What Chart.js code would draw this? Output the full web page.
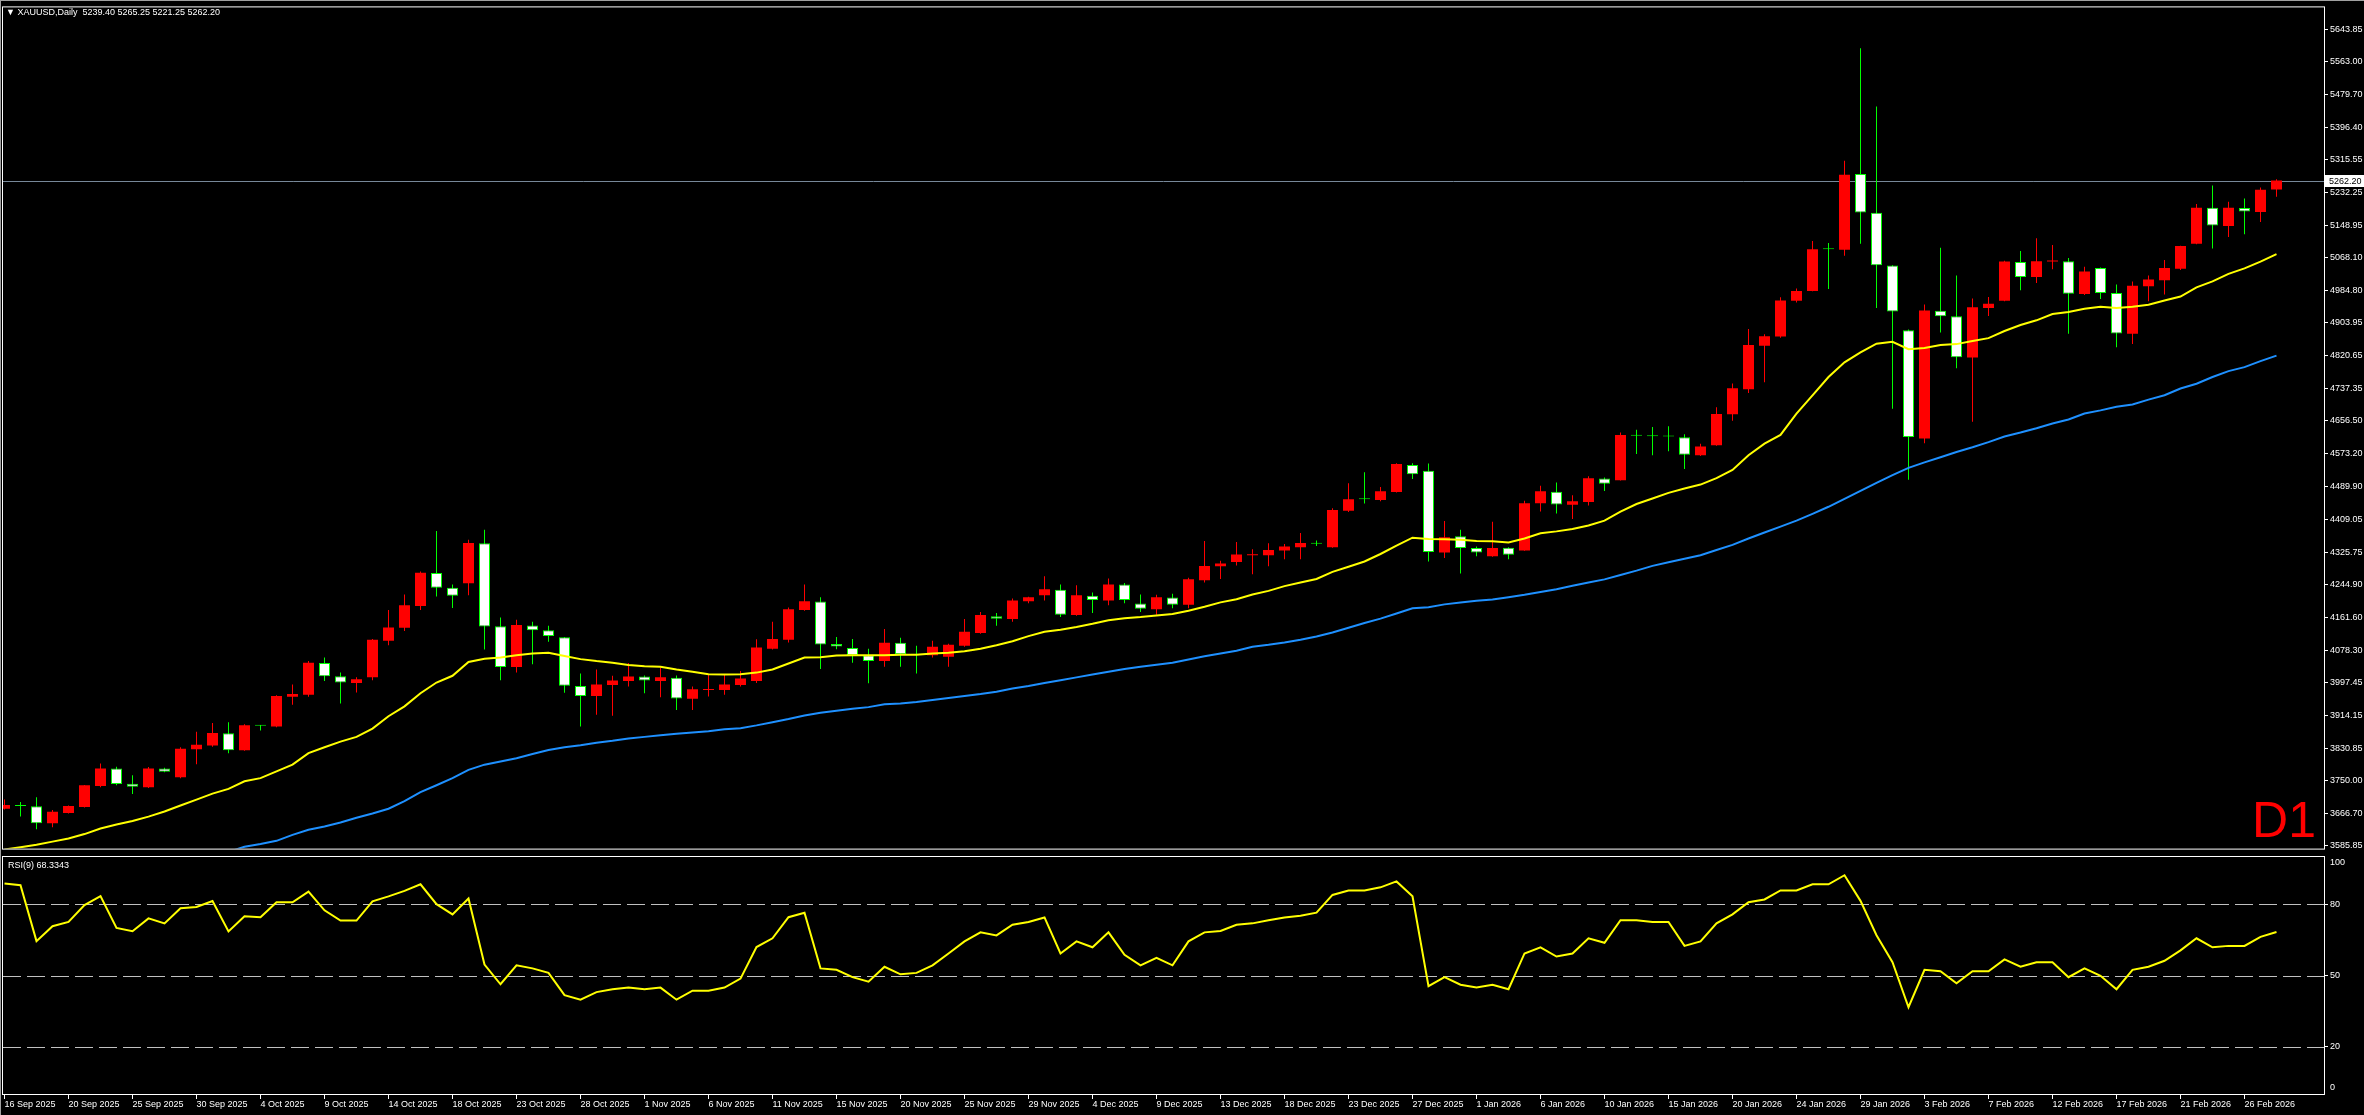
<!DOCTYPE html>
<html>
<head>
<meta charset="utf-8">
<title>XAUUSD Daily</title>
<script src="https://cdn.jsdelivr.net/npm/chart.js@4.4.1/dist/chart.umd.min.js"></script>
<style>
  html, body { margin: 0; padding: 0; background: #000; }
  #wrap { position: relative; width: 2364px; height: 1115px; overflow: hidden; background: #000; }
  canvas { position: absolute; left: 0; }
  .txt { position: absolute; font-family: 'Liberation Sans', Arial, sans-serif; white-space: pre; }
</style>
</head>
<body>
<div id="wrap">
  <canvas id="priceChart" width="2364" height="856" style="top:0;width:2364px;height:856px"></canvas>
  <canvas id="rsiChart" width="2364" height="259" style="top:856px;width:2364px;height:259px"></canvas>
  <div style="position:absolute;left:0;top:0;width:2364px;height:1px;background:#a0a0a0"></div>
  <div style="position:absolute;left:0;top:0;width:1px;height:1115px;background:#a0a0a0"></div>
  <div class="txt" style="left:6px;top:6px;font-size:9px;line-height:12px;color:#fff">▼ XAUUSD,Daily  5239.40 5265.25 5221.25 5262.20</div>
  <div class="txt" style="left:8px;top:859px;font-size:9px;line-height:12px;color:#fff">RSI(9) 68.3343</div>
  <div class="txt" style="right:48px;top:795px;font-size:50px;line-height:50px;color:#ff0000">D1</div>
</div>
<script>
const FONT = "'Liberation Sans', Arial, sans-serif";

// daily bars, 16 Sep 2025 .. end of Feb 2026
const open = [
  3679,3687,3685,3642,3668,3683,3736,3780,3742,3733,
  3780,3758,3829,3838,3869,3826,3888,3886,3961,3966,
  4046,4013,3996,4010,4102,4135,4190,4273,4236,4247,
  4348,4139,4036,4141,4129,4111,3988,3963,3991,4001,
  4012,4001,4009,3956,3978,3978,3991,4001,4082,4105,
  4180,4201,4094,4084,4066,4051,4097,4067,4066,4062,
  4090,4122,4164,4157,4202,4217,4231,4167,4216,4204,
  4244,4196,4182,4211,4193,4255,4290,4301,4318,4318,
  4330,4338,4347,4338,4430,4459,4457,4477,4545,4531,
  4325,4366,4336,4315,4337,4330,4449,4478,4445,4452,
  4511,4507,4619,4618,4617,4615,4570,4595,4673,4736,
  4846,4869,4959,4984,5089,5088,5279,5181,5048,4885,
  4612,4934,4920,4816,4941,4959,5057,5019,5058,5059,
  4976,5042,4979,4876,4996,5011,5040,5103,5194,5148,
  5193,5183,5239.40
];
const high = [
  3702,3696,3708,3676,3687,3739,3793,3785,3763,3784,
  3782,3834,3873,3895,3897,3892,3890,3965,3992,4051,
  4060,4022,4010,4107,4180,4219,4277,4379,4244,4357,
  4382,4161,4155,4150,4140,4112,4020,4030,4014,4046,
  4015,4035,4015,3987,4018,4017,4026,4106,4150,4186,
  4244,4212,4112,4107,4082,4132,4110,4090,4102,4095,
  4157,4175,4172,4209,4213,4265,4244,4242,4224,4259,
  4248,4219,4218,4221,4261,4354,4304,4351,4333,4348,
  4346,4374,4355,4436,4499,4527,4490,4550,4550,4549,
  4404,4382,4340,4402,4338,4455,4493,4501,4469,4517,
  4514,4627,4634,4641,4643,4623,4599,4691,4751,4888,
  4875,4968,4990,5110,5105,5312,5596,5449,5049,4887,
  4950,5093,5023,4965,4969,5060,5085,5117,5100,5067,
  5045,5043,5000,5008,5023,5062,5098,5203,5250,5209,
  5217,5245,5265.25
];
const low = [
  3677,3659,3627,3632,3667,3682,3733,3738,3716,3731,
  3771,3756,3791,3835,3819,3825,3876,3884,3941,3961,
  4001,3944,3972,4003,4091,4127,4180,4214,4185,4217,
  4080,4003,4022,4043,4100,3971,3886,3916,3913,3987,
  3970,3960,3928,3928,3962,3966,3987,3996,4080,4098,
  4178,4031,4081,4047,3995,4037,4037,4020,4060,4037,
  4087,4120,4140,4150,4197,4204,4162,4165,4172,4192,
  4197,4175,4168,4184,4184,4249,4258,4292,4270,4290,
  4308,4308,4341,4337,4427,4448,4454,4476,4510,4302,
  4311,4272,4315,4314,4308,4329,4428,4423,4409,4443,
  4480,4506,4573,4570,4580,4535,4568,4594,4657,4727,
  4754,4866,4955,4983,4989,5073,5103,4941,4687,4508,
  4600,4879,4789,4654,4921,4958,4986,5004,5039,4876,
  4974,4964,4842,4850,4958,4975,5037,5102,5091,5120,
  5127,5158,5221.25
];
const close = [
  3688,3686,3642,3671,3686,3738,3780,3741,3734,3780,
  3772,3830,3840,3870,3826,3889,3888,3963,3968,4047,
  4013,3997,4005,4105,4136,4192,4274,4236,4216,4349,
  4138,4036,4142,4129,4114,3989,3963,3992,4002,4012,
  4002,4010,3957,3980,3980,3992,4007,4085,4107,4182,
  4202,4093,4088,4066,4051,4097,4068,4067,4087,4092,
  4125,4167,4158,4204,4212,4232,4168,4217,4205,4244,
  4205,4183,4212,4193,4257,4291,4297,4320,4320,4331,
  4340,4349,4347,4432,4459,4459,4479,4548,4522,4326,
  4363,4336,4325,4336,4319,4449,4479,4446,4454,4512,
  4498,4621,4619,4618,4617,4571,4592,4674,4739,4848,
  4870,4960,4984,5089,5089,5277,5182,5049,4932,4616,
  4935,4920,4817,4943,4952,5058,5019,5059,5060,4977,
  5033,4979,4877,4997,5013,5042,5097,5194,5149,5194,
  5184,5239,5262.20
];

// yellow and blue moving averages, as drawn
const maFast = [
  3576,3582,3588,3596,3604,3615,3629,3639,3648,3659,
  3672,3687,3702,3717,3729,3748,3756,3773,3790,3819,
  3834,3848,3860,3881,3912,3937,3970,3997,4014,4049,
  4057,4060,4066,4070,4072,4064,4056,4051,4047,4041,
  4038,4037,4030,4024,4018,4017,4018,4022,4030,4045,
  4060,4061,4065,4066,4066,4066,4067,4067,4070,4072,
  4076,4082,4091,4101,4114,4125,4130,4137,4145,4154,
  4159,4162,4166,4170,4178,4188,4199,4207,4219,4228,
  4240,4249,4258,4276,4289,4302,4321,4342,4362,4359,
  4358,4357,4354,4353,4350,4360,4373,4378,4384,4393,
  4405,4428,4447,4461,4475,4486,4496,4512,4533,4570,
  4599,4621,4675,4721,4767,4804,4829,4851,4856,4837,
  4840,4848,4850,4858,4865,4883,4898,4910,4926,4931,
  4939,4944,4941,4944,4949,4960,4970,4993,5008,5027,
  5041,5058,5077
];
const maSlow = [
  null,null,null,null,null,null,null,null,null,null,
  null,null,null,3560,3570,3583,3590,3598,3613,3626,
  3634,3644,3656,3667,3679,3698,3721,3738,3756,3777,
  3790,3798,3806,3817,3827,3834,3839,3845,3850,3856,
  3860,3864,3868,3871,3874,3879,3882,3889,3897,3905,
  3914,3921,3926,3931,3935,3942,3944,3948,3953,3958,
  3963,3968,3974,3982,3988,3996,4003,4010,4017,4024,
  4031,4037,4042,4047,4055,4063,4070,4077,4087,4092,
  4098,4105,4113,4123,4135,4147,4158,4171,4184,4187,
  4194,4199,4203,4206,4212,4218,4225,4232,4241,4249,
  4257,4268,4279,4291,4300,4309,4318,4331,4344,4360,
  4375,4390,4405,4422,4440,4460,4480,4500,4520,4538,
  4552,4565,4578,4590,4603,4617,4627,4638,4650,4660,
  4675,4683,4692,4698,4710,4721,4738,4750,4767,4782,
  4792,4807,4821
];

// RSI(9)
const rsi = [
  88.8,88.1,64.5,70.8,72.6,79.7,83.5,70.1,68.7,74.1,
  72.0,78.4,78.9,81.4,68.6,75.0,74.6,80.9,80.9,85.4,
  77.5,73.2,73.2,81.3,83.4,85.7,88.5,80.1,75.8,82.5,
  54.6,46.3,54.3,53.0,51.1,41.7,39.8,43.0,44.2,44.9,
  44.2,44.9,39.8,43.6,43.6,44.9,48.7,62.0,65.7,74.6,
  76.5,53.0,52.4,49.3,47.4,53.7,50.5,51.1,54.3,59.3,
  64.4,68.2,66.9,71.4,72.6,74.5,59.3,64.4,61.9,68.2,
  58.7,54.3,57.4,54.3,64.4,68.2,68.8,71.4,72.0,73.3,
  74.5,75.2,76.5,84.0,85.9,85.9,87.2,89.7,83.4,45.5,
  49.3,46.1,44.9,46.1,44.2,59.3,61.9,58.0,59.3,65.7,
  63.8,73.3,73.3,72.6,72.6,62.5,64.4,72.0,75.8,80.9,
  82.1,85.9,85.9,88.5,88.5,92.3,81.5,67.0,55.6,36.6,
  52.4,51.8,46.7,51.8,51.8,56.8,53.7,55.6,55.6,49.3,
  53.0,49.9,44.2,52.4,53.7,56.2,60.6,65.7,61.9,62.5,
  62.5,66.3,68.33
];

const priceTicks = [
  5643.85, 5563.00, 5479.70, 5396.40, 5315.55, 5232.25, 5148.95, 5068.10, 4984.80,
  4903.95, 4820.65, 4737.35, 4656.50, 4573.20, 4489.90, 4409.05, 4325.75, 4244.90,
  4161.60, 4078.30, 3997.45, 3914.15, 3830.85, 3750.00, 3666.70, 3585.85
];
const rsiLevels = [20, 50, 80];
const rsiLabels = [100, 80, 50, 20, 0];
const dateTicks = [
  '16 Sep 2025', '20 Sep 2025', '25 Sep 2025', '30 Sep 2025', '4 Oct 2025', '9 Oct 2025',
  '14 Oct 2025', '18 Oct 2025', '23 Oct 2025', '28 Oct 2025', '1 Nov 2025', '6 Nov 2025',
  '11 Nov 2025', '15 Nov 2025', '20 Nov 2025', '25 Nov 2025', '29 Nov 2025', '4 Dec 2025',
  '9 Dec 2025', '13 Dec 2025', '18 Dec 2025', '23 Dec 2025', '27 Dec 2025', '1 Jan 2026',
  '6 Jan 2026', '10 Jan 2026', '15 Jan 2026', '20 Jan 2026', '24 Jan 2026', '29 Jan 2026',
  '3 Feb 2026', '7 Feb 2026', '12 Feb 2026', '17 Feb 2026', '21 Feb 2026', '26 Feb 2026'
];
const barsPerDateTick = 4;

// visible window (bar index / price)
const X_MIN = -0.09375, X_MAX = 144.96875;
const Y_MIN = 3578.4, Y_MAX = 5698.7;

const BULL = '#ff0000', BEAR_FILL = '#ffffff', BEAR_LINE = '#00ff00';

const idx = close.map((c, i) => i);
const up = idx.map(i => close[i] > open[i]);
const pts = arr => arr.map((v, i) => ({ x: i, y: v }));

// ----- panel frame -----
const framePlugin = {
  id: 'frame',
  afterDraw(chart) {
    const { ctx, chartArea: a } = chart;
    ctx.save();
    ctx.strokeStyle = '#ffffff';
    ctx.lineWidth = 1;
    ctx.strokeRect(a.left - 0.5, a.top - 0.5, a.right - a.left + 1, a.bottom - a.top + 1);
    ctx.restore();
  }
};

// ----- bid line + price box -----
const bidPlugin = {
  id: 'bid',
  beforeDatasetsDraw(chart) {
    const { ctx, chartArea: a, scales: { y } } = chart;
    const py = Math.round(y.getPixelForValue(close[close.length - 1])) + 0.5;
    ctx.save();
    ctx.strokeStyle = '#778899';
    ctx.lineWidth = 1;
    ctx.beginPath();
    ctx.moveTo(a.left, py);
    ctx.lineTo(a.right, py);
    ctx.stroke();
    ctx.restore();
  },
  afterDraw(chart) {
    const { ctx, chartArea: a, scales: { y } } = chart;
    const last = close[close.length - 1];
    const py = Math.round(y.getPixelForValue(last));
    ctx.save();
    ctx.fillStyle = '#ffffff';
    ctx.fillRect(a.right + 1, py - 6, 39, 12);
    ctx.fillStyle = '#000000';
    ctx.font = '9px ' + FONT;
    ctx.textBaseline = 'middle';
    ctx.fillText(last.toFixed(2), a.right + 5, py + 0.5);
    ctx.restore();
  }
};

// ----- main price chart -----
new Chart(document.getElementById('priceChart'), {
  type: 'bar',
  data: {
    datasets: [
      {
        type: 'line', data: pts(maFast), borderColor: '#ffff00', borderWidth: 2,
        pointRadius: 0, tension: 0, order: 0
      },
      {
        type: 'line', data: pts(maSlow), borderColor: '#1e90ff', borderWidth: 2,
        pointRadius: 0, tension: 0, spanGaps: false, order: 1
      },
      {
        type: 'bar',
        data: idx.map(i => ({ x: i, y: [Math.min(open[i], close[i]), Math.max(open[i], close[i])] })),
        backgroundColor: up.map(u => u ? BULL : BEAR_FILL),
        borderColor: up.map(u => u ? BULL : BEAR_LINE),
        borderWidth: up.map(u => u ? 0 : 1),
        borderSkipped: false,
        barThickness: 11,
        minBarLength: 1,
        inflateAmount: 0,
        grouped: false,
        order: 2
      },
      {
        type: 'bar',
        data: idx.map(i => ({ x: i, y: [low[i], high[i]] })),
        backgroundColor: up.map(u => u ? BULL : BEAR_LINE),
        borderWidth: 0,
        barThickness: 1,
        inflateAmount: 0,
        grouped: false,
        order: 3
      }
    ]
  },
  options: {
    responsive: false,
    animation: false,
    events: [],
    layout: { padding: { left: 3, top: 3, right: 0, bottom: 3 } },
    plugins: { legend: { display: false }, tooltip: { enabled: false } },
    scales: {
      x: { type: 'linear', display: false, min: X_MIN, max: X_MAX, offset: false },
      y: {
        type: 'linear',
        position: 'right',
        min: Y_MIN,
        max: Y_MAX,
        beginAtZero: false,
        afterBuildTicks: s => { s.ticks = priceTicks.map(v => ({ value: v })); },
        afterFit: s => { s.width = 40; },
        grid: { drawOnChartArea: false, drawTicks: true, tickLength: 4, color: '#ffffff' },
        border: { display: true, color: '#ffffff', width: 1 },
        ticks: {
          color: '#ffffff', padding: 2, autoSkip: false,
          font: { family: FONT, size: 9 },
          callback: v => Number(v).toFixed(2)
        }
      }
    }
  },
  plugins: [framePlugin, bidPlugin]
});

// ----- RSI levels and labels -----
const rsiPlugin = {
  id: 'rsiLevels',
  beforeDatasetsDraw(chart) {
    const { ctx, chartArea: a, scales: { y } } = chart;
    ctx.save();
    ctx.strokeStyle = '#c0c0c0';
    ctx.lineWidth = 1;
    ctx.setLineDash([18, 6]);
    rsiLevels.forEach(v => {
      const py = Math.round(y.getPixelForValue(v)) + 0.5;
      ctx.beginPath();
      ctx.moveTo(a.left, py);
      ctx.lineTo(a.right, py);
      ctx.stroke();
    });
    ctx.restore();
  },
  afterDraw(chart) {
    const { ctx, chartArea: a, scales: { y } } = chart;
    ctx.save();
    ctx.fillStyle = '#ffffff';
    ctx.font = '9px ' + FONT;
    ctx.textBaseline = 'middle';
    rsiLabels.forEach(v => {
      const py = Math.min(Math.max(y.getPixelForValue(v), a.top + 6), a.bottom - 6);
      ctx.fillText(String(v), a.right + 6, py);
    });
    ctx.restore();
  }
};

new Chart(document.getElementById('rsiChart'), {
  type: 'line',
  data: {
    datasets: [{
      data: pts(rsi), borderColor: '#ffff00', borderWidth: 2, pointRadius: 0, tension: 0
    }]
  },
  options: {
    responsive: false,
    animation: false,
    events: [],
    layout: { padding: { left: 3, top: 1, right: 0, bottom: 0 } },
    plugins: { legend: { display: false }, tooltip: { enabled: false } },
    scales: {
      x: {
        type: 'linear',
        position: 'bottom',
        min: X_MIN,
        max: X_MAX,
        offset: false,
        afterBuildTicks: s => { s.ticks = dateTicks.map((t, k) => ({ value: k * barsPerDateTick })); },
        afterFit: s => { s.height = 21; },
        grid: { drawOnChartArea: false, drawTicks: true, tickLength: 5, color: '#ffffff' },
        border: { display: true, color: '#ffffff' },
        ticks: {
          color: '#ffffff', align: 'start', padding: 0, autoSkip: false,
          maxRotation: 0, minRotation: 0,
          font: { family: FONT, size: 9 },
          callback: (v, k) => dateTicks[k]
        }
      },
      y: {
        type: 'linear',
        position: 'right',
        min: 0,
        max: 100,
        afterBuildTicks: s => { s.ticks = rsiLevels.map(v => ({ value: v })); },
        afterFit: s => { s.width = 40; },
        grid: { drawOnChartArea: false, drawTicks: true, tickLength: 4, color: '#ffffff' },
        border: { display: true, color: '#ffffff' },
        ticks: { display: false }
      }
    }
  },
  plugins: [framePlugin, rsiPlugin]
});
</script>
</body>
</html>
